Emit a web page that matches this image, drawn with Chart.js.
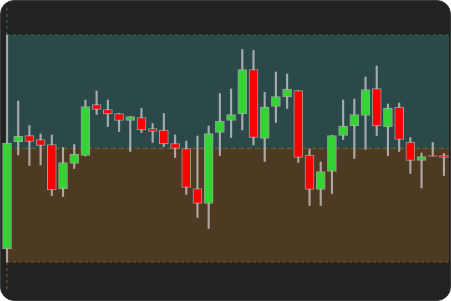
<!DOCTYPE html>
<html>
<head>
<meta charset="utf-8">
<script src="https://cdn.jsdelivr.net/npm/chart.js@4"></script>
<style>
  html, body { margin: 0; padding: 0; background: #ffffff; }
  #wrap {
    width: 451px; height: 301px; box-sizing: border-box;
    border: 1px solid #3c3c3c; border-radius: 14px;
    background: #222222; overflow: hidden;
  }
  canvas { display: block; }
</style>
</head>
<body>
<div id="wrap"><canvas id="chart" width="449" height="299"></canvas></div>
<script>
// daily OHLC, one entry per session
const opens  = [102.6, 124.0, 125.3, 124.5, 123.5, 114.6, 119.7, 121.3, 131.5, 130.5,
                129.7, 128.3, 128.9, 126.7, 126.4, 123.7, 122.7, 114.7, 111.7, 125.9,
                128.3, 129.6, 138.5, 124.7, 131.1, 133.0, 134.3, 121.4, 114.5, 118.1,
                125.3, 127.2, 129.3, 134.7, 127.0, 131.0, 124.0, 120.3, 121.3, 121.3];
const closes = [123.8, 125.2, 124.1, 123.3, 114.4, 119.9, 121.6, 131.1, 130.5, 129.6,
                128.3, 129.1, 126.4, 126.1, 123.6, 122.7, 114.9, 111.7, 125.7, 128.2,
                129.5, 138.5, 124.9, 131.0, 133.1, 134.6, 120.9, 114.5, 118.1, 125.3,
                127.2, 129.5, 134.5, 127.2, 130.8, 124.5, 120.3, 121.1, 121.1, 120.9];
const highs  = [145.4, 132.2, 127.3, 125.6, 125.4, 122.9, 123.5, 132.4, 134.2, 132.4,
                129.7, 129.1, 130.7, 127.7, 129.7, 125.4, 124.2, 125.2, 127.2, 133.7,
                134.6, 142.5, 142.3, 133.9, 138.0, 137.6, 134.3, 122.6, 120.0, 125.3,
                132.4, 132.6, 137.0, 139.2, 131.6, 131.8, 124.9, 121.8, 123.9, 121.7];
const lows   = [100.0, 121.4, 119.3, 119.4, 113.3, 113.1, 118.7, 121.2, 129.5, 127.1,
                126.1, 122.1, 125.9, 123.9, 123.1, 120.9, 113.5, 108.9, 106.7, 121.3,
                124.9, 126.4, 123.4, 120.1, 127.9, 130.7, 119.9, 111.3, 111.3, 113.7,
                124.5, 120.7, 122.5, 125.3, 121.3, 122.1, 117.7, 114.8, 121.1, 117.3];

const priceMin = 100.0;
const priceMax = 145.4;
const midPrice = (priceMin + priceMax) / 2;

const upColor = "#33d433";
const downColor = "#ff0000";

const bodies = opens.map((o, i) => ({ x: i, y: [o, closes[i]] }));
const wicks = lows.map((l, i) => ({ x: i, y: [l, highs[i]] }));
const bodyColors = opens.map((o, i) => (closes[i] >= o ? upColor : downColor));

// shaded zones above / below the mid price
const zones = {
  id: "zones",
  beforeDatasetsDraw(chart) {
    const { ctx, chartArea: a, scales: { y } } = chart;
    const yMid = y.getPixelForValue(midPrice);
    const yTop = y.getPixelForValue(priceMax);
    const yBot = y.getPixelForValue(priceMin);
    ctx.save();
    ctx.fillStyle = "rgba(75, 192, 192, 0.25)";
    ctx.fillRect(a.left, yTop, a.right - a.left, yMid - yTop);
    ctx.fillStyle = "rgba(255, 150, 40, 0.2)";
    ctx.fillRect(a.left, yMid, a.right - a.left, yBot - yMid);

    ctx.lineWidth = 1.5;
    ctx.setLineDash([3, 3]);
    ctx.strokeStyle = "rgba(50, 95, 80, 0.8)";
    ctx.beginPath();
    ctx.moveTo(a.left, yTop); ctx.lineTo(a.right, yTop);
    ctx.moveTo(a.left, yTop); ctx.lineTo(a.left, yTop - 30);
    ctx.stroke();
    ctx.strokeStyle = "rgba(110, 85, 35, 0.8)";
    ctx.beginPath();
    ctx.moveTo(a.left, yBot); ctx.lineTo(a.right, yBot);
    ctx.moveTo(a.left, yBot); ctx.lineTo(a.left, yBot + 30);
    ctx.stroke();
    ctx.setLineDash([5, 3]);
    ctx.strokeStyle = "rgba(110, 100, 45, 0.8)";
    ctx.beginPath();
    ctx.moveTo(a.left, yMid); ctx.lineTo(a.right, yMid);
    ctx.stroke();
    ctx.restore();
  },
};

new Chart(document.getElementById("chart").getContext("2d"), {
  type: "bar",
  data: {
    datasets: [
      {
        label: "body",
        data: bodies,
        backgroundColor: bodyColors,
        borderColor: "rgba(190, 190, 190, 0.75)",
        borderWidth: 1,
        borderSkipped: false,
        barThickness: 9,
        grouped: false,
        clip: false,
      },
      {
        label: "wick",
        data: wicks,
        backgroundColor: "rgba(215, 215, 215, 0.7)",
        borderWidth: 0,
        barThickness: 1.5,
        grouped: false,
        clip: false,
      },
    ],
  },
  options: {
    responsive: false,
    animation: false,
    layout: { padding: { left: 6, right: 1, top: 34, bottom: 38 } },
    plugins: { legend: { display: false }, tooltip: { enabled: false } },
    scales: {
      x: { type: "linear", min: 0, max: 39.45, offset: false, display: false },
      y: { min: priceMin, max: priceMax, display: false },
    },
  },
  plugins: [zones],
});
</script>
</body>
</html>
